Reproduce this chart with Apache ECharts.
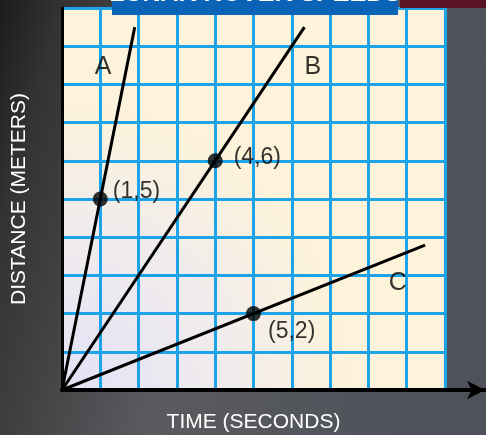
<!DOCTYPE html>
<html style="height: 100%">
<head>
<meta charset="utf-8">
</head>
<body style="height: 100%; margin: 0">
<div id="container" style="width: 486px; height: 435px"></div>
<script type="text/javascript" src="https://cdn.jsdelivr.net/npm/echarts@6/dist/echarts.min.js"></script>
<script type="text/javascript">
// rover lines, from origin to where they leave the drawing
var lineA = [[0, 0], [1.9, 9.5]];
var lineB = [[0, 0], [6.33, 9.5]];
var lineC = [[0, 0], [9.48, 3.79]];
// marked points
var points = [[1, 5], [4, 6], [5, 2]];
var pointLabels = ['(1,5)', '(4,6)', '(5,2)'];
// line letters
var letters = ['A', 'B', 'C'];
var letterPos = [[1.07, 8.45], [6.55, 8.45], [8.77, 2.8]];

var dom = document.getElementById('container');
var myChart = echarts.init(dom);

var FONT = '"Liberation Sans Narrow", "Liberation Sans", Arial, sans-serif';
var gridBlue = '#1fa3e8';

var lineStyle = { color: '#000', width: 3 };
function lineSeries(data) {
    return {
        type: 'line',
        data: data,
        symbol: 'none',
        lineStyle: lineStyle,
        silent: true,
        z: 3
    };
}

var option = {
    animation: false,
    backgroundColor: {
        type: 'linear', x: 0, y: 0, x2: 1, y2: 0.3,
        colorStops: [
            { offset: 0, color: '#1c1c1e' },
            { offset: 0.12, color: '#333335' },
            { offset: 0.5, color: '#5a5b5e' },
            { offset: 1, color: '#4e525a' }
        ]
    },
    grid: [{
        left: 62, top: 8, width: 383, height: 382,
        outerBoundsMode: 'none',
        containLabel: false,
        show: true,
        borderWidth: 0,
        backgroundColor: {
            type: 'radial', x: 0, y: 1, r: 0.75,
            colorStops: [
                { offset: 0, color: '#e2e2f6' },
                { offset: 0.6, color: '#f1ecec' },
                { offset: 1, color: '#fdf3da' }
            ]
        }
    }, {
        left: 62, top: 8, width: 423, height: 382,
        outerBoundsMode: 'none',
        containLabel: false
    }],
    xAxis: [{
        type: 'value', gridIndex: 0, min: 0, max: 10, interval: 1,
        axisLine: { show: false },
        axisTick: { show: false },
        axisLabel: { show: false },
        splitLine: { show: true, showMinLine: false, lineStyle: { color: gridBlue, width: 3 } },
        name: 'TIME (SECONDS)',
        nameLocation: 'middle',
        nameGap: 22,
        nameTextStyle: { color: '#fff', fontFamily: FONT, fontSize: 21 }
    }, {
        type: 'value', gridIndex: 1, min: 0, max: 1,
        axisLine: {
            show: true, symbol: ['none', 'arrow'], symbolSize: [14, 18],
            lineStyle: { color: '#000', width: 4 }
        },
        axisTick: { show: false },
        axisLabel: { show: false },
        splitLine: { show: false }
    }],
    yAxis: [{
        type: 'value', gridIndex: 0, min: 0, max: 10, interval: 1,
        axisLine: { show: true, lineStyle: { color: '#000', width: 3 } },
        axisTick: { show: false },
        axisLabel: { show: false },
        splitLine: { show: true, showMinLine: false, lineStyle: { color: gridBlue, width: 3 } },
        name: 'DISTANCE (METERS)',
        nameLocation: 'middle',
        nameRotate: 90,
        nameGap: 32,
        nameTextStyle: { color: '#fff', fontFamily: FONT, fontSize: 21 }
    }, {
        type: 'value', gridIndex: 1, show: false
    }],
    graphic: [
        { type: 'rect', shape: { x: 400, y: 0, width: 86, height: 8 }, style: { fill: '#5a1428' }, z: 1 },
        { type: 'rect', shape: { x: 112, y: 0, width: 286, height: 15 }, style: { fill: '#0b63b8' }, z: 100 },
        {
            type: 'text', x: 255, y: 7, z: 101,
            style: {
                text: 'LUNAR ROVER SPEEDS', fill: '#fff',
                font: 'bold 25px ' + FONT,
                align: 'center', verticalAlign: 'bottom'
            }
        }
    ],
    series: [
        lineSeries(lineA),
        lineSeries(lineB),
        lineSeries(lineC),
        {
            type: 'scatter',
            data: points.map(function (p, i) {
                return { value: p, label: { formatter: pointLabels[i] } };
            }),
            symbolSize: 15,
            itemStyle: { color: '#000' },
            z: 4,
            label: {
                show: true,
                color: '#000',
                fontFamily: FONT,
                fontSize: 23,
                position: 'right',
                distance: 5
            },
            labelLayout: function (params) {
                if (params.dataIndex === 1) { return { dx: 6, dy: -3 }; }
                if (params.dataIndex === 2) { return { dx: 2, dy: 18 }; }
                return { dy: -7 };
            }
        },
        {
            type: 'scatter',
            data: letterPos.map(function (p, i) {
                return { value: p, label: { formatter: letters[i] } };
            }),
            symbolSize: 0,
            z: 4,
            label: {
                show: true,
                color: '#000',
                fontFamily: FONT,
                fontSize: 25,
                position: 'inside'
            }
        }
    ]
};

myChart.setOption(option);
</script>
</body>
</html>
